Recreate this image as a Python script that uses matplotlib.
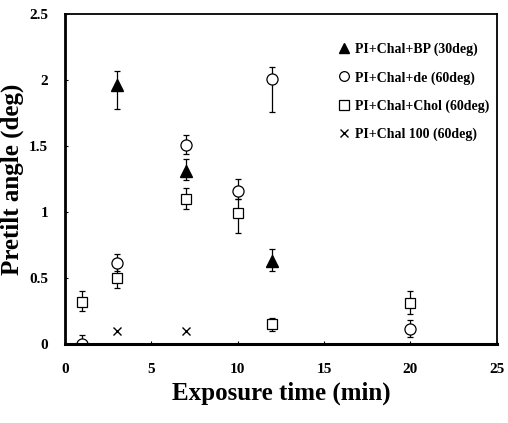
import matplotlib
matplotlib.use("Agg")
import matplotlib.pyplot as plt
from matplotlib.lines import Line2D

plt.rcParams["font.family"] = ["Liberation Serif", "DejaVu Serif"]
plt.rcParams["font.weight"] = "bold"

# ---- Data ----
x_bp = [3, 7, 12]
y_bp = [1.96, 1.31, 0.63]
lo_bp = [0.18, 0.07, 0.08]
hi_bp = [0.11, 0.09, 0.09]

x_de = [1, 3, 7, 10, 12, 20]
y_de = [0.0, 0.61, 1.51, 1.16, 2.01, 0.11]
lo_de = [0.0, 0.06, 0.07, 0.06, 0.25, 0.06]
hi_de = [0.07, 0.07, 0.07, 0.09, 0.09, 0.07]

x_chol = [1, 3, 7, 10, 12, 20]
y_chol = [0.32, 0.50, 1.10, 0.99, 0.15, 0.31]
lo_chol = [0.07, 0.08, 0.08, 0.15, 0.05, 0.08]
hi_chol = [0.08, 0.08, 0.08, 0.11, 0.05, 0.09]

x_100 = [3, 7]
y_100 = [0.10, 0.10]

labels = ["PI+Chal+BP (30deg)", "PI+Chal+de (60deg)",
          "PI+Chal+Chol (60deg)", "PI+Chal 100 (60deg)"]

# ---- Plot ----
fig = plt.figure(figsize=(5.08, 4.23), dpi=100)
ax = fig.add_axes([0.128, 0.187, 0.85, 0.78])

ekw = dict(ecolor="black", elinewidth=0.9, capsize=2, capthick=0.9, linestyle="none")
ax.errorbar(x_bp, y_bp, yerr=[lo_bp, hi_bp], marker="^", ms=8, mfc="black",
            mec="black", **ekw)
ax.errorbar(x_de, y_de, yerr=[lo_de, hi_de], marker="o", ms=8, mfc="white",
            mec="black", mew=0.9, **ekw)
ax.errorbar(x_chol, y_chol, yerr=[lo_chol, hi_chol], marker="s", ms=7.5, mfc="white",
            mec="black", mew=0.9, **ekw)
ax.plot(x_100, y_100, linestyle="none", marker="x", ms=6, mec="black", mew=1.0)

ax.set_xlim(0, 25)
ax.set_ylim(0, 2.5)
ax.set_xticks([0, 5, 10, 15, 20, 25])
ax.set_yticks([0, 0.5, 1, 1.5, 2, 2.5])
ax.set_yticklabels(["0", "0.5", "1", "1.5", "2", "2.5"])
ax.tick_params(direction="in", length=2, width=0.8, labelsize=11)
ax.tick_params(axis="x", pad=14)
ax.tick_params(axis="y", pad=12)
for lab in ax.get_xticklabels() + ax.get_yticklabels():
    lab.set_fontweight("bold")

ax.spines["left"].set_linewidth(2)
ax.spines["bottom"].set_linewidth(2.2)
ax.spines["top"].set_linewidth(1.3)
ax.spines["right"].set_linewidth(1.3)

ax.set_xlabel("Exposure time (min)", fontsize=18, fontweight="bold", labelpad=4)
ax.set_ylabel("Pretilt angle (deg)", fontsize=18, fontweight="bold", labelpad=4)

handles = [
    Line2D([], [], linestyle="none", marker="^", ms=7, mfc="black", mec="black"),
    Line2D([], [], linestyle="none", marker="o", ms=7, mfc="white", mec="black", mew=0.9),
    Line2D([], [], linestyle="none", marker="s", ms=7, mfc="white", mec="black", mew=0.9),
    Line2D([], [], linestyle="none", marker="x", ms=6, mec="black", mew=1.0),
]
leg = ax.legend(handles, labels, loc="upper left", bbox_to_anchor=(0.6, 0.95),
                frameon=False, fontsize=10, handletextpad=0.3, labelspacing=1.05,
                handlelength=1.0)
for t in leg.get_texts():
    t.set_fontweight("bold")

plt.savefig("out.png", dpi=100)
